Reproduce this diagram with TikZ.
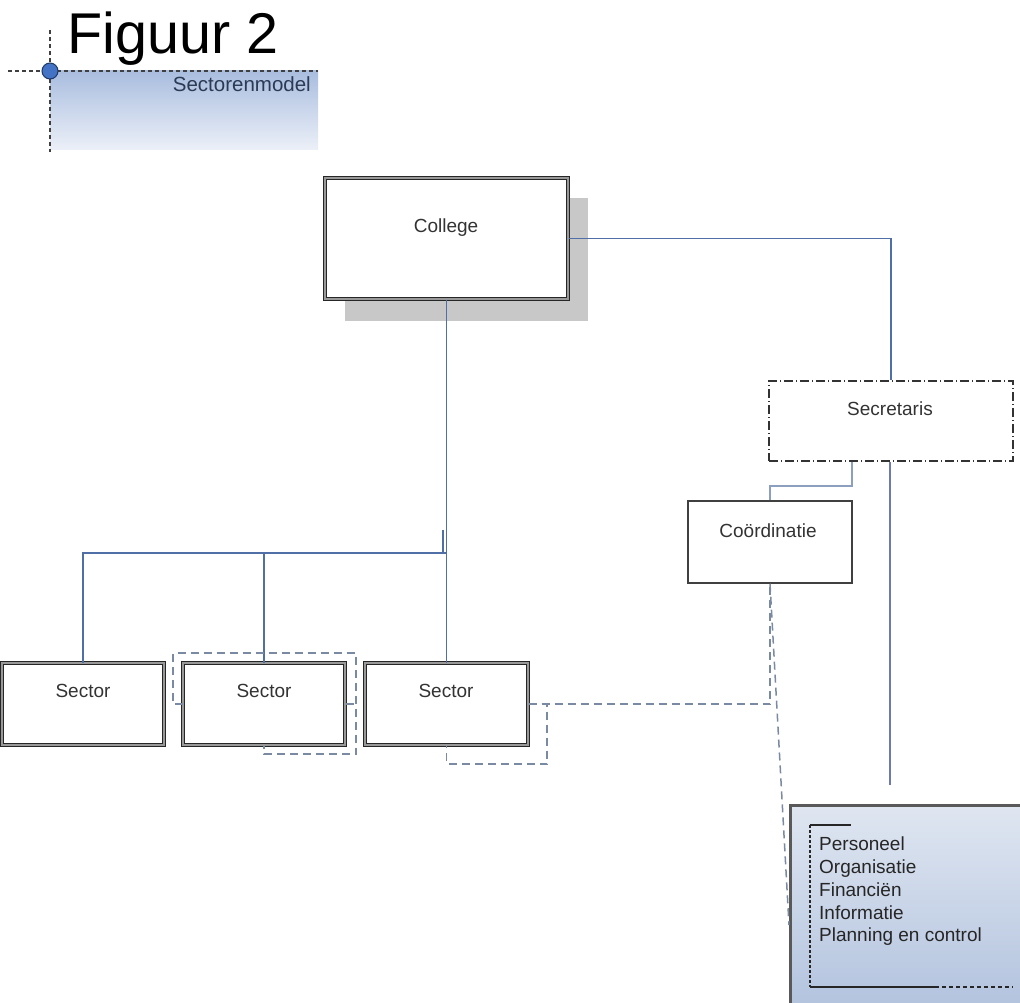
\documentclass[tikz,border=0pt]{standalone}
\usepackage{fontspec}
\setmainfont{Liberation Sans}
\definecolor{connblue}{HTML}{4F6FA6}
\definecolor{connlight}{HTML}{8D9FBE}
\definecolor{connviolet}{HTML}{6D78B5}
\definecolor{dashgray}{HTML}{7A8AA3}
\definecolor{shadowgray}{HTML}{C8C8C8}
\definecolor{titletop}{HTML}{A9BDDF}
\definecolor{titlebot}{HTML}{ECF0F8}
\definecolor{stafftop}{HTML}{DFE6F1}
\definecolor{staffbot}{HTML}{B0C1DD}
\definecolor{dotblue}{HTML}{4472C4}
\definecolor{dotedge}{HTML}{1F3864}
\definecolor{labelgray}{HTML}{333333}
\definecolor{subtitle}{HTML}{2B3A55}
\begin{document}
\begin{tikzpicture}[x=1pt,y=-1pt,
  dbox/.style={draw=black!85, double=black!40, double distance=1.6pt, line width=1pt, fill=white, inner sep=0pt},
  coordbox/.style={draw=black!75, line width=1.5pt, fill=white, inner sep=0pt},
  secrbox/.style={draw=black!80, line width=1.5pt, dash pattern=on 9pt off 3pt on 1pt off 3pt, fill=white, inner sep=0pt},
  staffbox/.style={draw=black!65, line width=2.5pt, top color=stafftop, bottom color=staffbot, inner sep=0pt},
  boxtext/.style={inner sep=0pt, text=labelgray, font=\fontsize{19pt}{23pt}\selectfont},
  conn/.style={draw=connblue, line width=1.2pt},
  connL/.style={draw=connlight, line width=1.5pt},
  connV/.style={draw=connviolet, line width=1.2pt},
  dconn/.style={draw=dashgray, line width=1.5pt, dash pattern=on 8pt off 5pt},
  guide/.style={draw=black!75, line width=1.2pt, dash pattern=on 4pt off 3pt}
]
\useasboundingbox (0,0) rectangle (1020,1003);
\clip (0,0) rectangle (1020,1003);
\fill[white] (0,0) rectangle (1020,1003);

% ---- title block ----
\shade[top color=titletop, bottom color=titlebot] (50,71) rectangle (318,150);
\draw[guide] (8,71) -- (318,71);
\draw[guide] (50,30) -- (50,152);
\filldraw[fill=dotblue, draw=dotedge, line width=1pt] (50,71) circle (8);
\node[inner sep=0pt, anchor=base west, font=\fontsize{57.5pt}{60pt}\selectfont] (title) at (67.5,53.5) {Figuur 2};
\node[inner sep=0pt, anchor=base east, text=subtitle, font=\fontsize{20.5pt}{24pt}\selectfont] (subtitle) at (311,92) {Sectorenmodel};

% ---- College ----
\fill[shadowgray] (345,198) rectangle (588,321);
\node[dbox, minimum width=243pt, minimum height=121pt] (college) at (446.5,238.5) {};
\node[boxtext, anchor=base] (collegeT) at (446,233) {College};

% ---- Secretaris ----
\node[secrbox, minimum width=244pt, minimum height=80pt] (secr) at (891,421) {};
\node[boxtext, anchor=base] (secrT) at (890,415) {Secretaris};

% ---- Coordinatie ----
\node[coordbox, minimum width=164pt, minimum height=82pt] (coord) at (770,542) {};
\node[boxtext, anchor=base] (coordT) at (768,537) {Coördinatie};

% ---- Sectors ----
\node[dbox, minimum width=162pt, minimum height=82pt] (sec1) at (83,704) {};
\node[dbox, minimum width=162pt, minimum height=82pt] (sec2) at (264,704) {};
\node[dbox, minimum width=163pt, minimum height=82pt] (sec3) at (446.5,704) {};
\node[boxtext, anchor=base] (sec1T) at (83,697) {Sector};
\node[boxtext, anchor=base] (sec2T) at (264,697) {Sector};
\node[boxtext, anchor=base] (sec3T) at (446,697) {Sector};

% ---- staff box ----
\node[staffbox, anchor=north west, minimum width=250pt, minimum height=215pt] (staff) at (789,804) {};
\node[inner sep=0pt, anchor=north west, align=left, text=black!85, font=\fontsize{19pt}{22.7pt}\selectfont] (staffT) at (819,837)
  {Personeel\\Organisatie\\Financiën\\Informatie\\Planning en control};
\coordinate (brTop) at (810,825);
\coordinate (brTopEnd) at (851,825);
\coordinate (brBot) at (810,987);
\coordinate (brMid) at (935,987);
\coordinate (brEnd) at (1013,987);
\draw[black!85, line width=1.2pt] (brTop) -- (brTopEnd);
\draw[black!85, line width=1.2pt, dash pattern=on 3pt off 2pt] (brTop) -- (brBot);
\draw[black!85, line width=1.5pt] (brBot) -- (brMid);
\draw[black!85, line width=1.5pt, dash pattern=on 4pt off 3pt] (brMid) -- (brEnd);

% ---- connectors ----
\coordinate (bus) at (446.5,553);
\coordinate (busThick) at (443,530);
\draw[conn] (college.south) -- (sec3.north);
\draw[conn, line width=1.6pt] (sec1.north) |- (bus);
\draw[conn, line width=1.6pt] (sec2.north) |- (bus);
\draw[conn, line width=1.6pt] (busThick) -- (busThick |- bus);
\draw[conn] (college.east) -| (secr.north);

\coordinate (cj) at (852,486);
\draw[connL] (coord.north) |- (cj) -- (cj |- secr.south);
\coordinate (sEnd) at (890,785);
\draw[connV] (secr.south -| sEnd) -- (sEnd);

% dashed around second sector
\coordinate (d2a) at (173,653);
\coordinate (d2b) at (356,754);
\draw[dconn] (sec2.west) -| (d2a) -| (d2b) -| (sec2.south);
\draw[dconn] (sec2.east) -- (sec2.east -| d2b);

% dashed around third sector and to coordinatie
\coordinate (d3) at (547,764);
\draw[dconn] (sec3.east) -| (d3) -| (sec3.south);
\draw[dconn] (sec3.east) -| (coord.south);
\coordinate (slEnd) at (789,925);
\draw[dconn] (coord.south) -- (slEnd);
\end{tikzpicture}
\end{document}
